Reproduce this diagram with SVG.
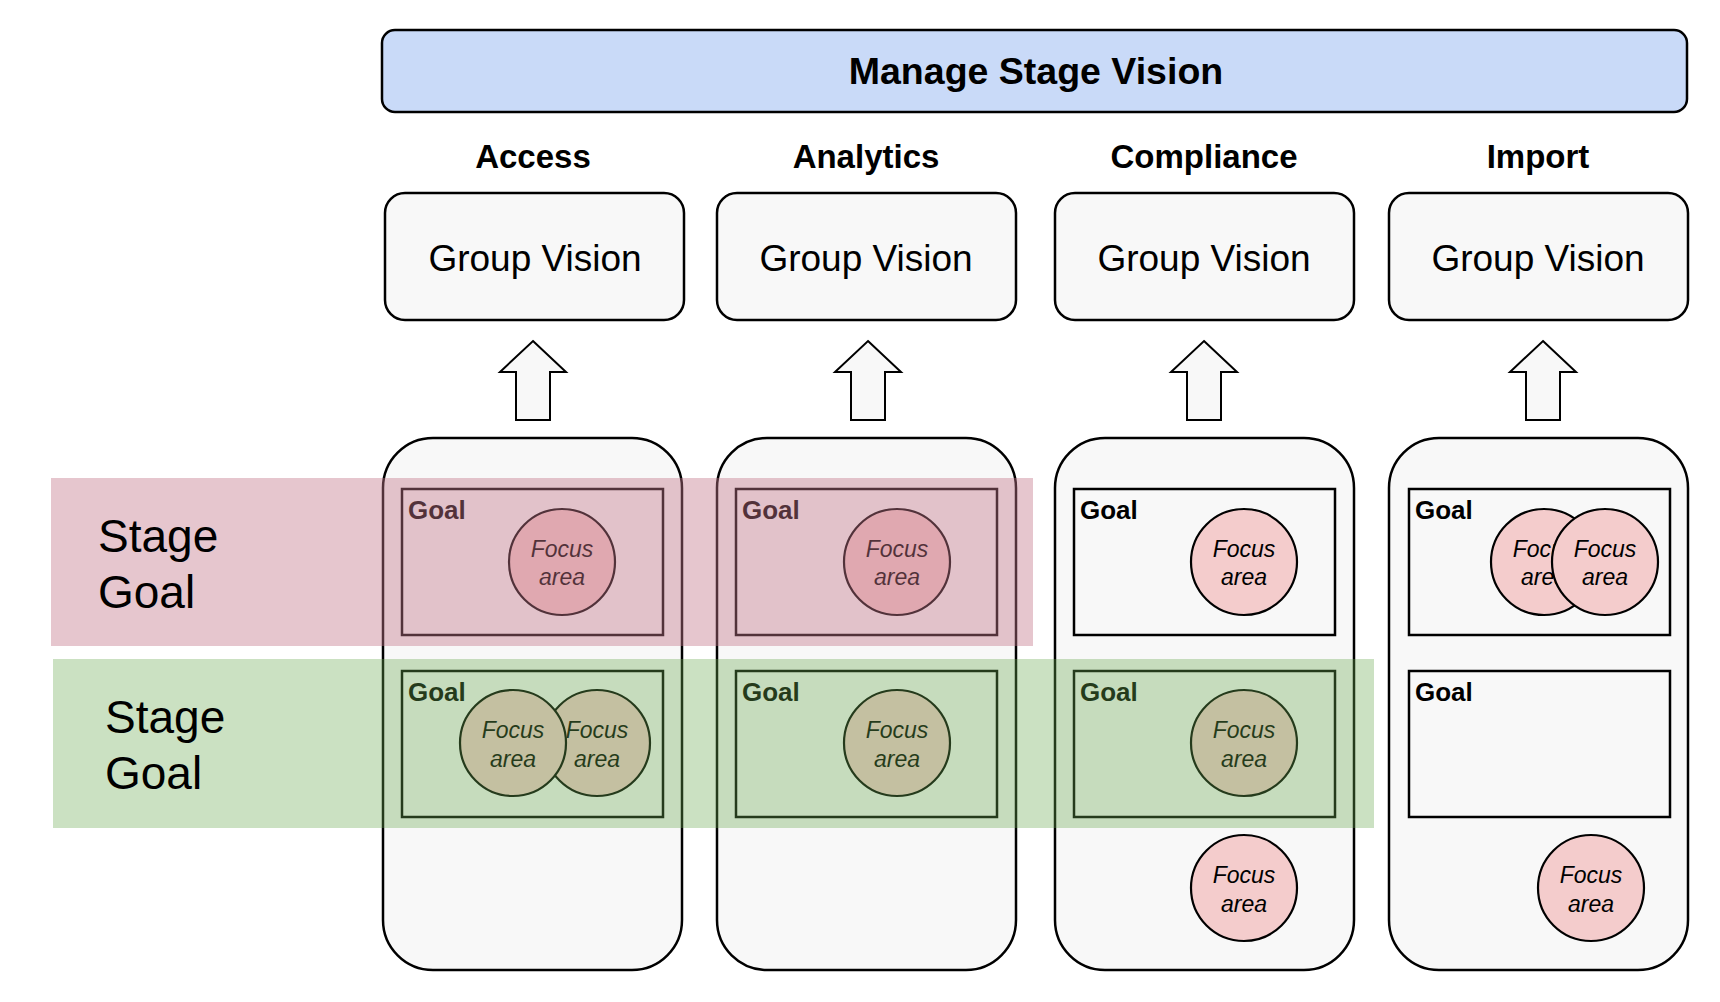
<svg xmlns="http://www.w3.org/2000/svg" width="1720" height="1002" viewBox="0 0 1720 1002">
<style>
text{font-family:"Liberation Sans",Arial,Helvetica,sans-serif;fill:#000}
.box{fill:#f8f8f8;stroke:#000;stroke-width:2.5}
.goal{fill:#f8f8f8;stroke:#000;stroke-width:2.5}
.fa{fill:#f4cccc;stroke:#000;stroke-width:2.2}
.arr{fill:#f8f8f8;stroke:#000;stroke-width:2;stroke-linejoin:miter}
.cat{font-size:33px;font-weight:bold;text-anchor:middle}
.gv{font-size:37px;text-anchor:middle}
.gl{font-size:26px;font-weight:bold}
.ft{font-size:23px;font-style:italic;text-anchor:middle}
.sg{font-size:46px}
</style>
<rect width="1720" height="1002" fill="#fff"/>
<g id="manage">
<rect x="382" y="30" width="1305" height="82" rx="13" fill="#c9daf8" stroke="#000" stroke-width="2.5"/>
<text x="1036" y="84" font-size="37.5" font-weight="bold" text-anchor="middle">Manage Stage Vision</text>
</g>
<g id="labels">
<text class="cat" x="533" y="168">Access</text>
<text class="cat" x="866" y="168">Analytics</text>
<text class="cat" x="1204" y="168">Compliance</text>
<text class="cat" x="1538" y="168">Import</text>
</g>
<g id="gv-access"><rect class="box" x="385" y="193" width="299" height="127" rx="20"/><text class="gv" x="535" y="271">Group Vision</text></g>
<g id="gv-analytics"><rect class="box" x="717" y="193" width="299" height="127" rx="20"/><text class="gv" x="866" y="271">Group Vision</text></g>
<g id="gv-compliance"><rect class="box" x="1055" y="193" width="299" height="127" rx="20"/><text class="gv" x="1204" y="271">Group Vision</text></g>
<g id="gv-import"><rect class="box" x="1389" y="193" width="299" height="127" rx="20"/><text class="gv" x="1538" y="271">Group Vision</text></g>
<g id="connectors">
<path class="arr" d="M533 341 L566 372 L550 372 L550 420 L516 420 L516 372 L500 372 Z"/>
<path class="arr" d="M868 341 L901 372 L885 372 L885 420 L851 420 L851 372 L835 372 Z"/>
<path class="arr" d="M1204 341 L1237 372 L1221 372 L1221 420 L1187 420 L1187 372 L1171 372 Z"/>
<path class="arr" d="M1543 341 L1576 372 L1560 372 L1560 420 L1526 420 L1526 372 L1510 372 Z"/>
</g>
<g id="col-access">
<rect class="box" x="383" y="438" width="299" height="532" rx="50"/>
<rect class="goal" x="402" y="489" width="261" height="146"/>
<text class="gl" x="408" y="519">Goal</text>
<circle class="fa" cx="562" cy="562" r="53"/>
<text class="ft" x="562" y="557">Focus</text><text class="ft" x="562" y="585">area</text>
<rect class="goal" x="402" y="671" width="261" height="146"/>
<text class="gl" x="408" y="701">Goal</text>
<circle class="fa" cx="597" cy="743" r="53"/>
<text class="ft" x="597" y="738">Focus</text><text class="ft" x="597" y="767">area</text>
<circle class="fa" cx="513" cy="743" r="53"/>
<text class="ft" x="513" y="738">Focus</text><text class="ft" x="513" y="767">area</text>
</g>
<g id="col-analytics">
<rect class="box" x="717" y="438" width="299" height="532" rx="50"/>
<rect class="goal" x="736" y="489" width="261" height="146"/>
<text class="gl" x="742" y="519">Goal</text>
<circle class="fa" cx="897" cy="562" r="53"/>
<text class="ft" x="897" y="557">Focus</text><text class="ft" x="897" y="585">area</text>
<rect class="goal" x="736" y="671" width="261" height="146"/>
<text class="gl" x="742" y="701">Goal</text>
<circle class="fa" cx="897" cy="743" r="53"/>
<text class="ft" x="897" y="738">Focus</text><text class="ft" x="897" y="767">area</text>
</g>
<g id="col-compliance">
<rect class="box" x="1055" y="438" width="299" height="532" rx="50"/>
<rect class="goal" x="1074" y="489" width="261" height="146"/>
<text class="gl" x="1080" y="519">Goal</text>
<circle class="fa" cx="1244" cy="562" r="53"/>
<text class="ft" x="1244" y="557">Focus</text><text class="ft" x="1244" y="585">area</text>
<rect class="goal" x="1074" y="671" width="261" height="146"/>
<text class="gl" x="1080" y="701">Goal</text>
<circle class="fa" cx="1244" cy="743" r="53"/>
<text class="ft" x="1244" y="738">Focus</text><text class="ft" x="1244" y="767">area</text>
<circle class="fa" cx="1244" cy="888" r="53"/>
<text class="ft" x="1244" y="883">Focus</text><text class="ft" x="1244" y="912">area</text>
</g>
<g id="col-import">
<rect class="box" x="1389" y="438" width="299" height="532" rx="50"/>
<rect class="goal" x="1409" y="489" width="261" height="146"/>
<text class="gl" x="1415" y="519">Goal</text>
<circle class="fa" cx="1544" cy="562" r="53"/>
<text class="ft" x="1544" y="557">Focus</text><text class="ft" x="1544" y="585">area</text>
<circle class="fa" cx="1605" cy="562" r="53"/>
<text class="ft" x="1605" y="557">Focus</text><text class="ft" x="1605" y="585">area</text>
<rect class="goal" x="1409" y="671" width="261" height="146"/>
<text class="gl" x="1415" y="701">Goal</text>
<circle class="fa" cx="1591" cy="888" r="53"/>
<text class="ft" x="1591" y="883">Focus</text><text class="ft" x="1591" y="912">area</text>
</g>
<g id="stage-goal-red">
<rect x="51" y="478" width="982" height="168" fill="#c4788a" fill-opacity="0.42"/>
<text class="sg" x="98" y="552">Stage</text><text class="sg" x="98" y="608">Goal</text>
</g>
<g id="stage-goal-green">
<rect x="53" y="659" width="1321" height="169" fill="#6aa84f" fill-opacity="0.35"/>
<text class="sg" x="105" y="733">Stage</text><text class="sg" x="105" y="789">Goal</text>
</g>
</svg>
